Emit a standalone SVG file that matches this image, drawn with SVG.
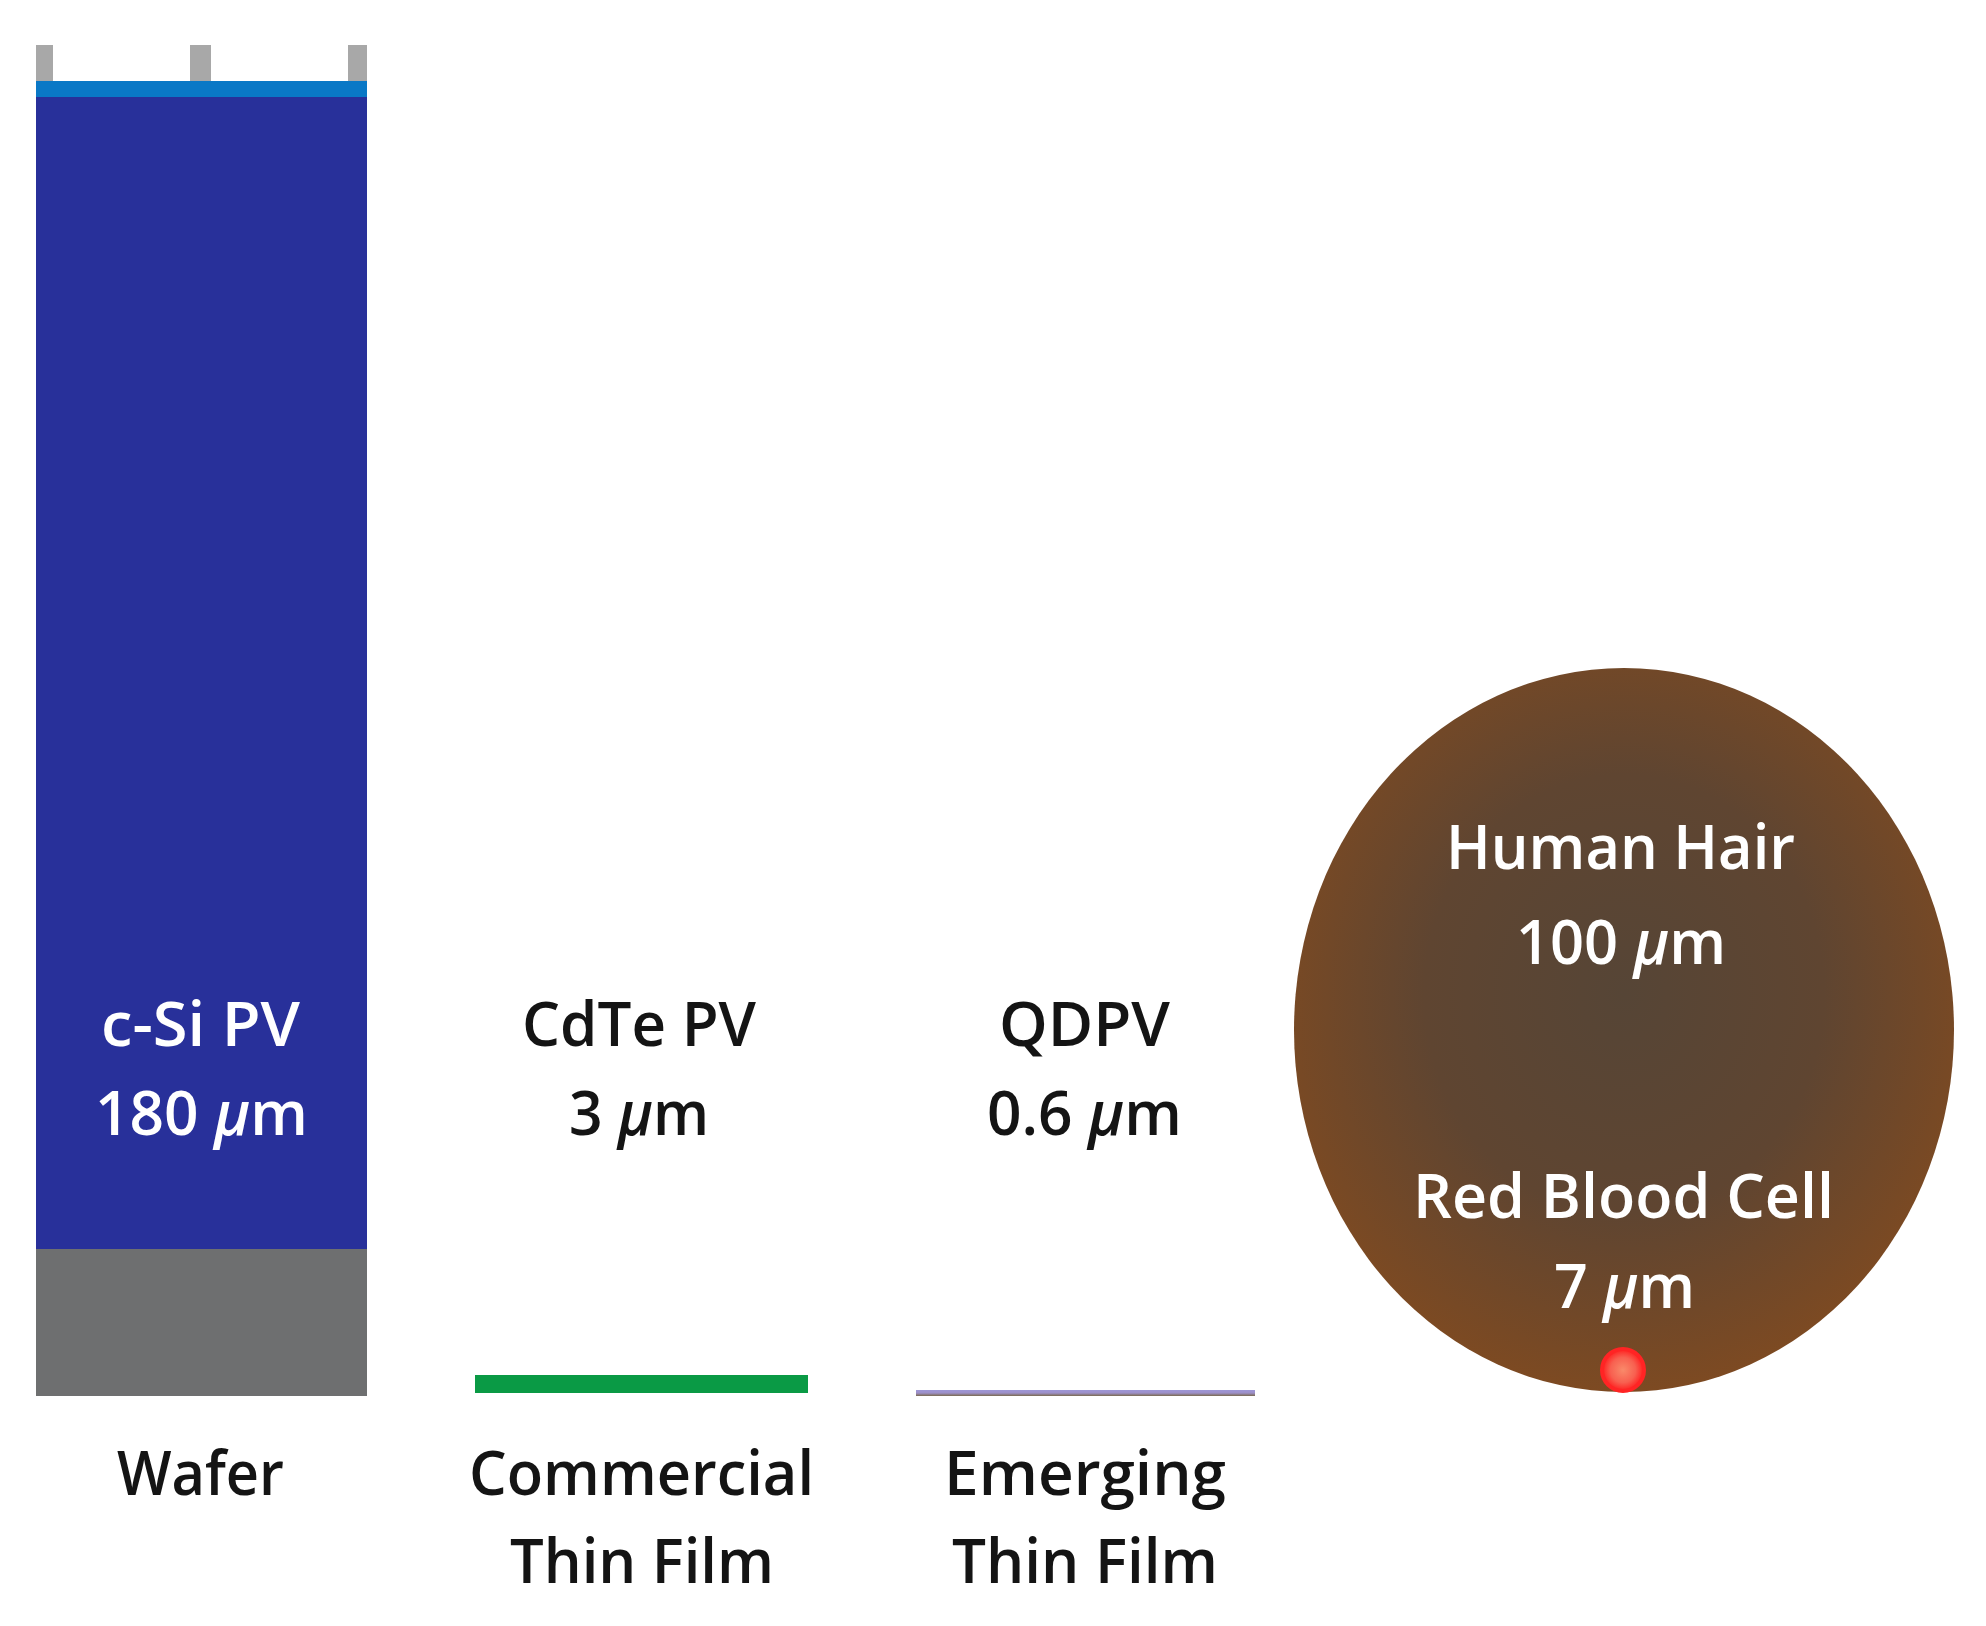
<svg xmlns="http://www.w3.org/2000/svg" width="1986" height="1626" viewBox="0 0 1986 1626">
<style>
.t{font-family:"Open Sans","Liberation Sans",sans-serif;font-weight:600;text-anchor:middle}
.w{fill:#ffffff}
.k{fill:#141414}
.s{font-size:61px}
.b{font-size:62px}
.i{font-style:italic}
</style>
<defs>
<radialGradient id="hair" cx="0.5" cy="0.45" r="0.55">
<stop offset="0" stop-color="#564536"/>
<stop offset="0.55" stop-color="#5f4531"/>
<stop offset="1" stop-color="#7d4a22"/>
</radialGradient>
<radialGradient id="rbc" cx="0.5" cy="0.5" r="0.5">
<stop offset="0" stop-color="#f98a6a"/>
<stop offset="0.6" stop-color="#f86050"/>
<stop offset="1" stop-color="#ff1e1e"/>
</radialGradient>
<linearGradient id="emg" x1="0" y1="0" x2="0" y2="1">
<stop offset="0" stop-color="#9d96d6"/>
<stop offset="0.5" stop-color="#9d8fc8"/>
<stop offset="1" stop-color="#7a6a4e"/>
</linearGradient>
</defs>
<rect width="1986" height="1626" fill="#ffffff"/>
<g id="wafer">
<rect x="36" y="45" width="17" height="37" fill="#a8a8a8"/>
<rect x="190" y="45" width="21" height="37" fill="#a8a8a8"/>
<rect x="348" y="45" width="19" height="37" fill="#a8a8a8"/>
<rect x="36" y="81" width="331" height="16" fill="#0a78c6"/>
<rect x="36" y="97" width="331" height="1152" fill="#28309a"/>
<rect x="36" y="1249" width="331" height="147" fill="#6e6f70"/>
<text class="t w s" x="200.5" y="1046" textLength="199" lengthAdjust="spacingAndGlyphs">c-Si PV</text>
<text class="t w s" x="201.5" y="1135" textLength="213" lengthAdjust="spacingAndGlyphs">180 <tspan class="i">μ</tspan>m</text>
<text class="t k b" x="200.5" y="1495" textLength="167" lengthAdjust="spacingAndGlyphs">Wafer</text>
</g>
<g id="cdte">
<rect x="475" y="1375" width="333" height="18" fill="#0a9a45"/>
<text class="t k s" x="639" y="1046" textLength="234" lengthAdjust="spacingAndGlyphs">CdTe PV</text>
<text class="t k s" x="639" y="1135" textLength="140" lengthAdjust="spacingAndGlyphs">3 <tspan class="i">μ</tspan>m</text>
<text class="t k b" x="641.5" y="1495" textLength="345" lengthAdjust="spacingAndGlyphs">Commercial</text>
<text class="t k b" x="642" y="1583" textLength="264" lengthAdjust="spacingAndGlyphs">Thin Film</text>
</g>
<g id="qdpv">
<rect x="916" y="1390" width="339" height="6" fill="url(#emg)"/>
<text class="t k s" x="1084.5" y="1046" textLength="171" lengthAdjust="spacingAndGlyphs">QDPV</text>
<text class="t k s" x="1084.5" y="1135" textLength="195" lengthAdjust="spacingAndGlyphs">0.6 <tspan class="i">μ</tspan>m</text>
<text class="t k b" x="1085" y="1495" textLength="282" lengthAdjust="spacingAndGlyphs">Emerging</text>
<text class="t k b" x="1085" y="1583" textLength="266" lengthAdjust="spacingAndGlyphs">Thin Film</text>
</g>
<g id="hair-node">
<ellipse cx="1624" cy="1030" rx="330" ry="362" fill="url(#hair)"/>
<text class="t w b" x="1620.5" y="869" textLength="349" lengthAdjust="spacingAndGlyphs">Human Hair</text>
<text class="t w b" x="1621" y="964" textLength="210" lengthAdjust="spacingAndGlyphs">100 <tspan class="i">μ</tspan>m</text>
</g>
<g id="rbc-node">
<circle cx="1623" cy="1370" r="21" fill="url(#rbc)" stroke="#ff2424" stroke-width="4"/>
<text class="t w b" x="1623.5" y="1218" textLength="421" lengthAdjust="spacingAndGlyphs">Red Blood Cell</text>
<text class="t w b" x="1624.5" y="1308" textLength="141" lengthAdjust="spacingAndGlyphs">7 <tspan class="i">μ</tspan>m</text>
</g>
<g id="connectors"/>
</svg>
